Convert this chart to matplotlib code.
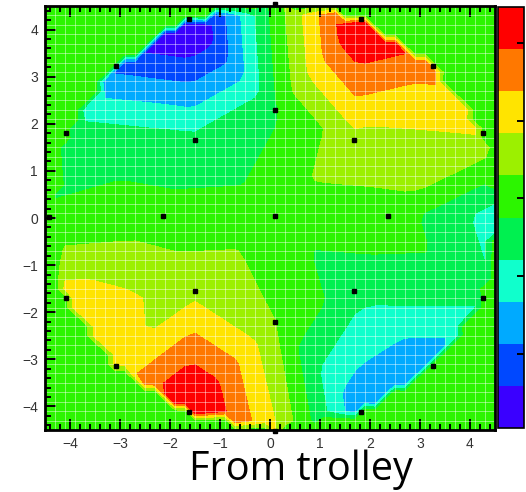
import numpy as np
import matplotlib
matplotlib.use("Agg")
import matplotlib.pyplot as plt
import matplotlib.tri as mtri

### probe positions (cm) and field values (arb. units) ###
probe_x = [-1.63, -3.08, -4.08, -4.42, -4.08, -3.08, -1.63, 0.10,
           1.81, 3.26, 4.26, 4.60, 4.26, 3.26, 1.81, 0.10,
           0.10, -1.51, -2.15, -1.51, 0.10, 1.67, 2.35, 1.67,
           0.10]
probe_y = [4.23, 3.23, 1.80, 0.03, -1.69, -3.14, -4.12, -4.53,
           -4.12, -3.14, -1.69, 0.05, 1.80, 3.23, 4.23, 4.55,
           2.30, 1.65, 0.05, -1.54, -2.20, -1.54, 0.05, 1.65,
           0.05]
field = [-3.30, -2.05, -0.50, -0.18, 1.10, 0.95, 2.80, 0.90,
         -1.80, -1.80, -0.65, -1.10, 0.85, 1.60, 2.70, 0.00,
         -0.30, -0.62, -0.05, 0.66, 0.30, -0.55, 0.08, 0.65,
         0.00]
z_min, z_max = -2.955, 2.465     # colour scale range
n_contours = 10
cbar_ticks = [-2, -1, 0, 1, 2]
caption = "From trolley"

palette = ['#3a00ff', '#0048ff', '#00aaff', '#10ffcc', '#00f050',
           '#2cf500', '#9cf000', '#ffe400', '#ff7800', '#ff0000']

px = np.array(probe_x)
py = np.array(probe_y)
pz = np.array(field)

# Delaunay + linear interpolation onto a grid, zero outside the hull (like TGraph2D)
tri = mtri.Triangulation(px, py)
interp = mtri.LinearTriInterpolator(tri, pz)
gx = np.linspace(-4.5, 4.5, 46)
GX, GY = np.meshgrid(gx, gx)
GZ = np.clip(interp(GX, GY).filled(0.0), z_min, z_max)

levels = np.linspace(z_min, z_max, n_contours + 1)

fig = plt.figure(figsize=(5.26, 4.92), dpi=100)
ax = fig.add_axes([45/526, 62/492, 450/526, 424/492])
ax.set_facecolor(palette[5])

cs = ax.contourf(GX, GY, GZ, levels=levels, colors=palette)

# white bin lines
for v in gx:
    ax.axvline(v, color='white', lw=0.7, alpha=0.45)
    ax.axhline(v, color='white', lw=0.7, alpha=0.45)

ax.plot(px, py, 's', color='black', ms=3, clip_on=False, zorder=2.4)

ax.set_xlim(-4.5, 4.5)
ax.set_ylim(-4.5, 4.5)
ax.set_xticks(range(-4, 5))
ax.set_yticks(range(-4, 5))
ax.set_xticks(np.arange(-4.4, 4.5, 0.2), minor=True)
ax.set_yticks(np.arange(-4.4, 4.5, 0.2), minor=True)
ax.tick_params(which='both', direction='in', top=True, right=False,
               width=1.4, colors='black', labelsize=10)
ax.tick_params(which='major', length=8)
ax.tick_params(which='minor', length=4)
ax.tick_params(axis='y', pad=5)
ax.tick_params(axis='x', pad=5)
for tl in ax.get_xticklabels() + ax.get_yticklabels():
    tl.set_family('Liberation Sans')
    tl.set_color('#333333')
for s in ax.spines.values():
    s.set_linewidth(2)

cax = fig.add_axes([498/526, 64/492, 26/526, 421/492])
cb = fig.colorbar(cs, cax=cax)
cb.set_ticks(cbar_ticks)
cax.tick_params(direction='in', length=5, width=1.4, labelright=False)
cb.outline.set_linewidth(1.2)

fig.text(301/526, 12/492, caption, ha='center', va='baseline',
         fontsize=28.5, family='Open Sans')

fig.savefig('out.png', dpi=100)
